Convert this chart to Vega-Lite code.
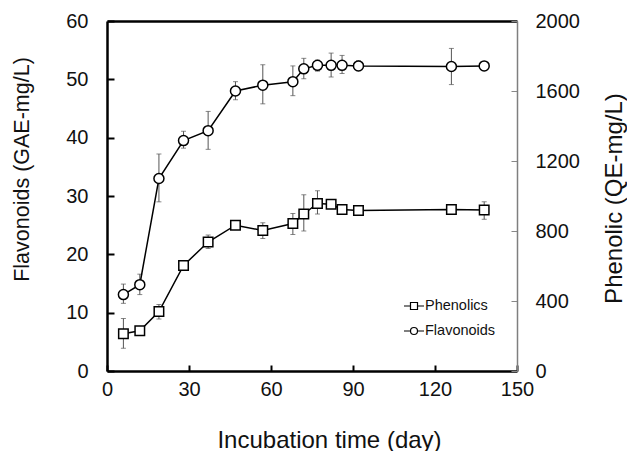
{
  "$schema": "https://vega.github.io/schema/vega-lite/v6.json",
  "autosize": {"type": "none"},
  "width": 410,
  "height": 350,
  "padding": {"left": 107, "top": 21, "right": 110, "bottom": 80},
  "background": "white",
  "config": {
    "view": {"stroke": null},
    "font": "Liberation Sans",
    "axis": {"grid": false, "labelFont": "Liberation Sans", "titleFont": "Liberation Sans", "labelColor": "#111", "titleColor": "#111", "titleFontWeight": "normal"}
  },
  "data": {
    "values": [
      {"day": 6, "flav": 13.1, "flav_lo": 11.6, "flav_hi": 14.9, "phen": 213, "phen_lo": 130, "phen_hi": 300},
      {"day": 12, "flav": 14.8, "flav_lo": 13.1, "flav_hi": 16.6, "phen": 230, "phen_lo": 217, "phen_hi": 243},
      {"day": 19, "flav": 33.0, "flav_lo": 29.0, "flav_hi": 37.2, "phen": 340, "phen_lo": 297, "phen_hi": 380},
      {"day": 28, "flav": 39.5, "flav_lo": 38.2, "flav_hi": 41.1, "phen": 603, "phen_lo": 590, "phen_hi": 617},
      {"day": 37, "flav": 41.2, "flav_lo": 38.0, "flav_hi": 44.5, "phen": 737, "phen_lo": 700, "phen_hi": 777},
      {"day": 47, "flav": 48.0, "flav_lo": 46.5, "flav_hi": 49.6, "phen": 833, "phen_lo": 820, "phen_hi": 847},
      {"day": 57, "flav": 49.0, "flav_lo": 45.8, "flav_hi": 52.5, "phen": 803, "phen_lo": 757, "phen_hi": 847},
      {"day": 68, "flav": 49.6, "flav_lo": 47.2, "flav_hi": 52.3, "phen": 843, "phen_lo": 780, "phen_hi": 900},
      {"day": 72, "flav": 51.8, "flav_lo": 50.1, "flav_hi": 53.6, "phen": 897, "phen_lo": 800, "phen_hi": 1007},
      {"day": 77, "flav": 52.4, "flav_lo": 51.4, "flav_hi": 53.3, "phen": 957, "phen_lo": 897, "phen_hi": 1030},
      {"day": 82, "flav": 52.4, "flav_lo": 50.4, "flav_hi": 54.5, "phen": 953, "phen_lo": 940, "phen_hi": 967},
      {"day": 86, "flav": 52.4, "flav_lo": 51.0, "flav_hi": 54.1, "phen": 923, "phen_lo": 910, "phen_hi": 937},
      {"day": 92, "flav": 52.3, "flav_lo": 51.5, "flav_hi": 53.2, "phen": 917, "phen_lo": 903, "phen_hi": 930},
      {"day": 126, "flav": 52.2, "flav_lo": 49.1, "flav_hi": 55.3, "phen": 923, "phen_lo": 910, "phen_hi": 937},
      {"day": 138, "flav": 52.3, "flav_lo": 51.7, "flav_hi": 52.9, "phen": 920, "phen_lo": 867, "phen_hi": 967}
    ]
  },
  "layer": [
    {
      "encoding": {
        "x": {
          "field": "day", "type": "quantitative",
          "scale": {"domain": [0, 150], "nice": false, "zero": false},
          "axis": {
            "orient": "bottom", "values": [0, 30, 60, 90, 120, 150],
            "title": "Incubation time (day)", "titleFontSize": 24,
            "titleX": 222, "titleY": 69, "titleBaseline": "middle", "titleAlign": "center",
            "labelFontSize": 20, "labelPadding": 14, "tickSize": -6, "tickWidth": 2, "tickColor": "#000",
            "domainColor": "#000", "domainWidth": 2.5, "labelFlush": false
          }
        }
      },
      "layer": [
        {
          "mark": {"type": "rule", "color": "#555", "strokeWidth": 1},
          "encoding": {
            "y": {"field": "flav_lo", "type": "quantitative"},
            "y2": {"field": "flav_hi"}
          }
        },
        {
          "mark": {"type": "tick", "orient": "horizontal", "size": 5, "thickness": 1, "color": "#555"},
          "encoding": {"y": {"field": "flav_lo", "type": "quantitative"}}
        },
        {
          "mark": {"type": "tick", "orient": "horizontal", "size": 5, "thickness": 1, "color": "#555"},
          "encoding": {"y": {"field": "flav_hi", "type": "quantitative"}}
        },
        {
          "mark": {"type": "line", "color": "#000", "strokeWidth": 1.5},
          "encoding": {"y": {"field": "flav", "type": "quantitative"}}
        },
        {
          "mark": {"type": "point", "shape": "circle", "size": 100, "filled": false, "fill": "white", "fillOpacity": 1, "stroke": "#000", "strokeWidth": 1.5, "opacity": 1},
          "encoding": {
            "y": {
              "field": "flav", "type": "quantitative",
              "scale": {"domain": [0, 60], "nice": false},
              "axis": {
                "orient": "left", "values": [0, 10, 20, 30, 40, 50, 60],
                "title": "Flavonoids (GAE-mg/L)", "titleFontSize": 21.5,
                "titleX": -85, "titleY": 148, "titleAngle": -90, "titleBaseline": "middle", "titleAlign": "center",
                "labelFontSize": 20, "labelPadding": 26, "tickSize": -7, "tickWidth": 2, "tickColor": "#000",
                "domainColor": "#000", "domainWidth": 2.5
              }
            }
          }
        },
        {
          "mark": {"type": "point", "opacity": 0},
          "encoding": {
            "y": {"field": "flav", "type": "quantitative"},
            "shape": {
              "datum": "Phenolics",
              "scale": {
                "domain": ["Phenolics", "Flavonoids"],
                "range": [
                  "M-1,0H-0.35M0.35,0H1M-0.35,-0.35H0.35V0.35H-0.35Z",
                  "M-1,0H-0.35M0.35,0H1M-0.35,0A0.35,0.35 0 1,0 0.35,0A0.35,0.35 0 1,0 -0.35,0Z"
                ]
              },
              "legend": {
                "orient": "none", "legendX": 296, "legendY": 274, "title": null, "padding": 0,
                "labelFont": "Liberation Sans", "labelFontSize": 14.5, "labelColor": "#111", "labelOffset": 0,
                "symbolSize": 400, "symbolOpacity": 1, "symbolFillColor": "white", "symbolStrokeColor": "#000",
                "symbolStrokeWidth": 1.2, "rowPadding": 7
              }
            }
          }
        },
        {
          "mark": {"type": "point", "opacity": 0},
          "encoding": {
            "y": {"field": "flav", "type": "quantitative"},
            "shape": {"datum": "Flavonoids"}
          }
        }
      ]
    },
    {
      "encoding": {
        "x": {
          "field": "day", "type": "quantitative",
          "axis": {"orient": "top", "labels": false, "ticks": false, "title": null, "domainColor": "#000", "domainWidth": 2.5}
        }
      },
      "layer": [
        {
          "mark": {"type": "rule", "color": "#555", "strokeWidth": 1},
          "encoding": {
            "y": {"field": "phen_lo", "type": "quantitative"},
            "y2": {"field": "phen_hi"}
          }
        },
        {
          "mark": {"type": "tick", "orient": "horizontal", "size": 5, "thickness": 1, "color": "#555"},
          "encoding": {"y": {"field": "phen_lo", "type": "quantitative"}}
        },
        {
          "mark": {"type": "tick", "orient": "horizontal", "size": 5, "thickness": 1, "color": "#555"},
          "encoding": {"y": {"field": "phen_hi", "type": "quantitative"}}
        },
        {
          "mark": {"type": "line", "color": "#000", "strokeWidth": 1.5},
          "encoding": {"y": {"field": "phen", "type": "quantitative"}}
        },
        {
          "mark": {"type": "point", "shape": "square", "size": 90, "filled": false, "fill": "white", "fillOpacity": 1, "stroke": "#000", "strokeWidth": 1.5, "opacity": 1},
          "encoding": {
            "y": {
              "field": "phen", "type": "quantitative",
              "scale": {"domain": [0, 2000], "nice": false},
              "axis": {
                "orient": "right", "values": [0, 400, 800, 1200, 1600, 2000], "format": "d",
                "title": "Phenolic (QE-mg/L)", "titleFontSize": 24,
                "titleX": 97, "titleY": 177, "titleAngle": -90, "titleBaseline": "middle", "titleAlign": "center",
                "labelFontSize": 20, "labelPadding": 24, "tickSize": -6, "tickWidth": 1, "tickColor": "#888",
                "domainColor": "#7f7f7f", "domainWidth": 1.5
              }
            }
          }
        }
      ]
    }
  ],
  "resolve": {"scale": {"y": "independent"}, "axis": {"x": "independent"}}
}
